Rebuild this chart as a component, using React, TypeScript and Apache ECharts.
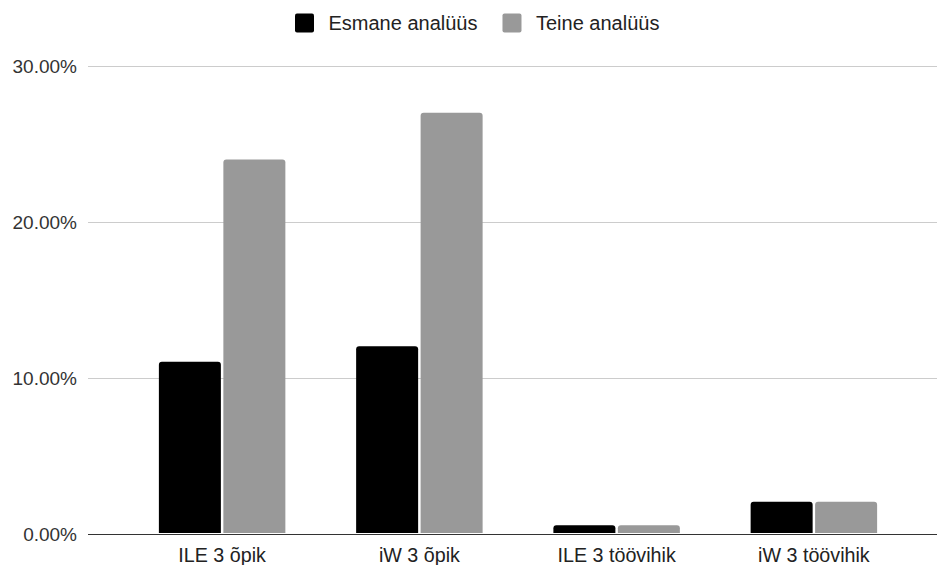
import React, { useEffect, useRef } from "react";
import * as echarts from "echarts";

const categories = ["ILE 3 õpik", "iW 3 õpik", "ILE 3 töövihik", "iW 3 töövihik"];
const esmane = [11, 12, 0.5, 2];
const teine = [24, 27, 0.5, 2];
const seriesNames = ["Esmane analüüs", "Teine analüüs"];

export default function App() {
  const ref = useRef<HTMLDivElement>(null);
  useEffect(() => {
    const chart = echarts.init(ref.current!, null, { renderer: "svg" });
    const font = "'Liberation Sans', Arial, sans-serif";
    const icon = "path://M2,0 H17 Q19,0 19,2 V17 Q19,19 17,19 H2 Q0,19 0,17 V2 Q0,0 2,0 Z";
    chart.setOption({
      animation: false,
      textStyle: { fontFamily: font },
      legend: {
        top: 8,
        left: 290,
        itemWidth: 20,
        itemHeight: 19,
        itemGap: 25,
        icon,
        textStyle: { fontSize: 20, color: "#222", fontFamily: font, padding: [0, 0, 0, 9] },
        data: seriesNames,
      },
      grid: [
        { left: 88, right: 0, top: 66, bottom: 31 },
        { left: 123.5, right: 24.5, top: 66, bottom: 31 },
      ],
      xAxis: [
        { type: "category", gridIndex: 0, data: categories, show: false },
        {
          type: "category",
          gridIndex: 1,
          data: categories,
          axisLine: { show: false },
          axisTick: { show: false },
          axisLabel: { fontSize: 19.7, color: "#222", margin: 12, fontFamily: font },
        },
      ],
      yAxis: [
        {
          type: "value",
          gridIndex: 0,
          min: 0,
          max: 30,
          interval: 10,
          axisLabel: {
            fontSize: 19,
            color: "#333",
            margin: 11,
            fontFamily: font,
            formatter: (v: number) => v.toFixed(2) + "%",
          },
          splitLine: { lineStyle: { color: "#cccccc", width: 1 } },
          axisLine: { show: false },
          axisTick: { show: false },
        },
        { type: "value", gridIndex: 1, min: 0, max: 30, interval: 10, show: false },
      ],
      series: [
        {
          name: seriesNames[0],
          type: "bar",
          xAxisIndex: 1,
          yAxisIndex: 1,
          data: esmane,
          barWidth: 62,
          barGap: "4%",
          itemStyle: { color: "#000000", borderRadius: [3, 3, 0, 0] },
        },
        {
          name: seriesNames[1],
          type: "bar",
          xAxisIndex: 1,
          yAxisIndex: 1,
          data: teine,
          barWidth: 62,
          barGap: "4%",
          itemStyle: { color: "#999999", borderRadius: [3, 3, 0, 0] },
        },
        {
          type: "line",
          xAxisIndex: 0,
          yAxisIndex: 0,
          data: [],
          silent: true,
          markLine: {
            silent: true,
            symbol: "none",
            label: { show: false },
            lineStyle: { color: "#333333", width: 1, type: "solid" },
            data: [{ yAxis: 0 }],
          },
        },
      ],
    });
    return () => chart.dispose();
  }, []);
  return <div ref={ref} style={{ width: 937, height: 565, position: "absolute", left: 0, top: 0 }} />;
}
